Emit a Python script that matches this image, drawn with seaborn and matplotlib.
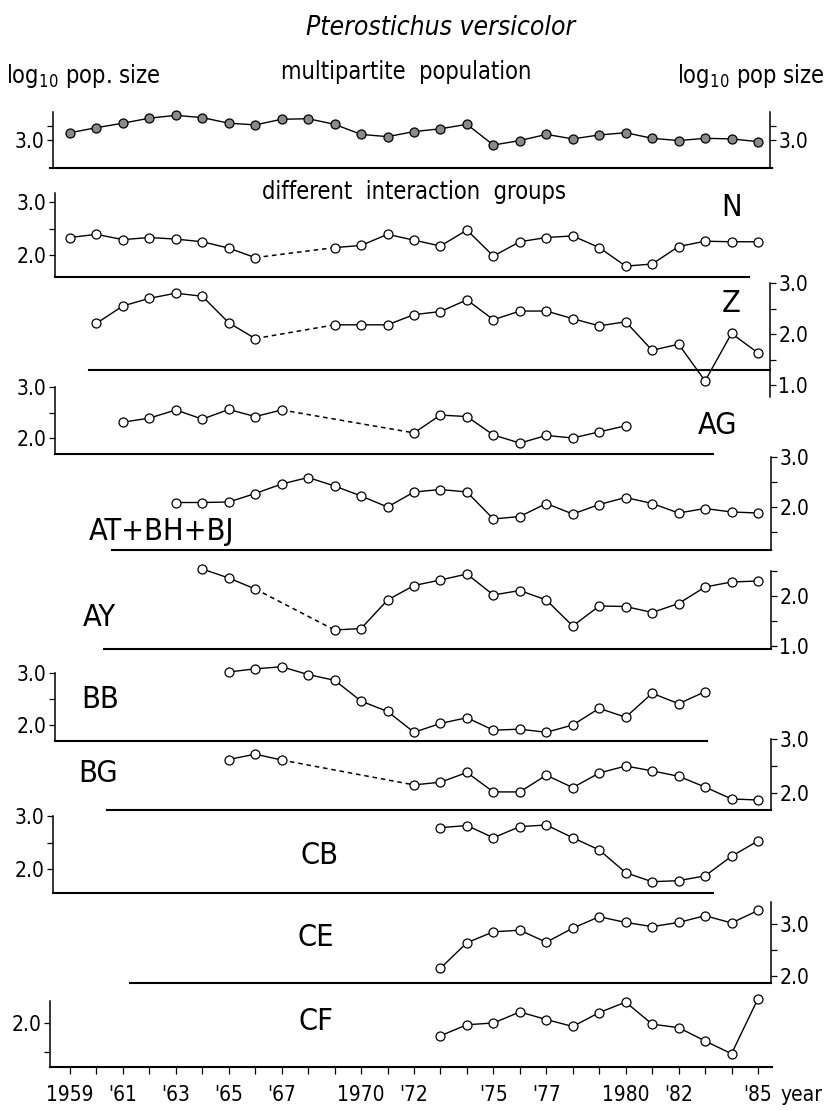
import matplotlib
matplotlib.use("Agg")
import matplotlib.pyplot as plt
from matplotlib import font_manager as fm
import numpy as np
import pandas as pd
import seaborn as sns

# ------------------------------------------------------------------ data
MULTI_YEARS = [1959, 1960, 1961, 1962, 1963, 1964, 1965, 1966, 1967, 1968, 1969, 1970, 1971,
               1972, 1973, 1974, 1975, 1976, 1977, 1978, 1979, 1980, 1981, 1982, 1983, 1984, 1985]
MULTI_VALUES = [3.13, 3.22, 3.30, 3.39, 3.44, 3.40, 3.30, 3.27, 3.37, 3.38, 3.28, 3.10, 3.06,
                3.15, 3.20, 3.28, 2.91, 2.99, 3.10, 3.02, 3.09, 3.13, 3.03, 2.99, 3.03, 3.02, 2.97]

N_YEARS = [1959, 1960, 1961, 1962, 1963, 1964, 1965, 1966,
           1969, 1970, 1971, 1972, 1973, 1974, 1975, 1976, 1977, 1978, 1979, 1980, 1981, 1982, 1983, 1984, 1985]
N_VALUES = [2.33, 2.39, 2.29, 2.33, 2.30, 2.25, 2.13, 1.95,
            2.14, 2.18, 2.39, 2.28, 2.17, 2.47, 1.98, 2.25, 2.33, 2.36, 2.14, 1.79, 1.83, 2.16, 2.26, 2.25, 2.25]

Z_YEARS = [1960, 1961, 1962, 1963, 1964, 1965, 1966,
           1969, 1970, 1971, 1972, 1973, 1974, 1975, 1976, 1977, 1978, 1979, 1980, 1981, 1982, 1983, 1984, 1985]
Z_VALUES = [2.21, 2.55, 2.70, 2.80, 2.74, 2.22, 1.91,
            2.18, 2.18, 2.18, 2.38, 2.44, 2.67, 2.28, 2.45, 2.45, 2.30, 2.16, 2.24, 1.68, 1.80, 1.08, 2.01, 1.63]

AG_YEARS = [1961, 1962, 1963, 1964, 1965, 1966, 1967,
            1972, 1973, 1974, 1975, 1976, 1977, 1978, 1979, 1980]
AG_VALUES = [2.31, 2.39, 2.55, 2.37, 2.56, 2.42, 2.55,
             2.10, 2.45, 2.42, 2.06, 1.90, 2.05, 2.00, 2.12, 2.24]

AT_YEARS = [1963, 1964, 1965, 1966, 1967, 1968, 1969, 1970, 1971, 1972, 1973, 1974,
            1975, 1976, 1977, 1978, 1979, 1980, 1981, 1982, 1983, 1984, 1985]
AT_VALUES = [2.09, 2.09, 2.10, 2.27, 2.46, 2.59, 2.42, 2.22, 2.00, 2.30, 2.35, 2.30,
             1.76, 1.81, 2.07, 1.86, 2.05, 2.19, 2.07, 1.88, 1.97, 1.90, 1.88]

AY_YEARS = [1964, 1965, 1966,
            1969, 1970, 1971, 1972, 1973, 1974, 1975, 1976, 1977, 1978, 1979, 1980, 1981, 1982, 1983, 1984, 1985]
AY_VALUES = [2.54, 2.36, 2.14,
             1.32, 1.35, 1.92, 2.21, 2.32, 2.44, 2.02, 2.11, 1.92, 1.40, 1.80, 1.79, 1.67, 1.85, 2.18, 2.28, 2.30]

BB_YEARS = [1965, 1966, 1967, 1968, 1969, 1970, 1971, 1972, 1973, 1974,
            1975, 1976, 1977, 1978, 1979, 1980, 1981, 1982, 1983]
BB_VALUES = [3.02, 3.08, 3.12, 2.97, 2.86, 2.46, 2.26, 1.86, 2.03, 2.14,
             1.90, 1.92, 1.86, 2.00, 2.32, 2.15, 2.61, 2.41, 2.64]

BG_YEARS = [1965, 1966, 1967,
            1972, 1973, 1974, 1975, 1976, 1977, 1978, 1979, 1980, 1981, 1982, 1983, 1984, 1985]
BG_VALUES = [2.62, 2.72, 2.61,
             2.15, 2.20, 2.38, 2.02, 2.02, 2.33, 2.10, 2.37, 2.50, 2.41, 2.31, 2.11, 1.89, 1.87]

CB_YEARS = [1973, 1974, 1975, 1976, 1977, 1978, 1979, 1980, 1981, 1982, 1983, 1984, 1985]
CB_VALUES = [2.78, 2.82, 2.59, 2.80, 2.83, 2.59, 2.36, 1.93, 1.76, 1.78, 1.87, 2.24, 2.53]

CE_YEARS = [1973, 1974, 1975, 1976, 1977, 1978, 1979, 1980, 1981, 1982, 1983, 1984, 1985]
CE_VALUES = [2.15, 2.64, 2.85, 2.88, 2.65, 2.92, 3.14, 3.03, 2.95, 3.03, 3.16, 3.02, 3.26]

CF_YEARS = [1973, 1974, 1975, 1976, 1977, 1978, 1979, 1980, 1981, 1982, 1983, 1984, 1985]
CF_VALUES = [1.78, 1.97, 2.00, 2.19, 2.06, 1.94, 2.18, 2.36, 1.98, 1.92, 1.69, 1.47, 2.42]

PANEL_NAMES = ["", "N", "Z", "AG", "AT+BH+BJ", "AY", "BB", "BG", "CB", "CE", "CF"]

XTICK_YEARS = [1959, 1960, 1961, 1962, 1963, 1964, 1965, 1966, 1967, 1968, 1969, 1970, 1971,
               1972, 1973, 1974, 1975, 1976, 1977, 1978, 1979, 1980, 1981, 1982, 1983, 1984, 1985]
XTICK_LABELS = {1959: "1959", 1961: "'61", 1963: "'63", 1965: "'65", 1967: "'67", 1970: "1970",
                1972: "'72", 1975: "'75", 1977: "'77", 1980: "1980", 1982: "'82", 1985: "'85"}

TITLE = "Pterostichus versicolor"

# ------------------------------------------------------------------ fonts
sns.set_theme(style="white")
avail = {(f.name, f.stretch) for f in fm.fontManager.ttflist}
names = {n for n, _ in avail}
FAM = "DejaVu Sans"
STRETCH = "normal"
if "Liberation Sans Narrow" in names:
    FAM = "Liberation Sans Narrow"
elif ("DejaVu Sans", "condensed") in avail or ("DejaVu Sans", "semi-condensed") in avail:
    STRETCH = "condensed"
plt.rcParams["font.family"] = [FAM, "DejaVu Sans"]
plt.rcParams["font.stretch"] = STRETCH
plt.rcParams["mathtext.fontset"] = "dejavusans"
for key in ["text.color", "axes.labelcolor", "xtick.color", "ytick.color", "axes.edgecolor"]:
    plt.rcParams[key] = "black"

# ------------------------------------------------------------------ layout (pixels)
W, H = 839, 1110
X1959_PX, X1985_PX = 70.0, 758.0


def year_of_px(px):
    return 1959 + (px - X1959_PX) * 26.0 / (X1985_PX - X1959_PX)


XLIM = (year_of_px(0), year_of_px(W))

# side, spine x, (value a, px a, value b, px b), spine px range, baseline px, baseline x-range,
# ticks, tick labels, name label position
LAYOUT = [
    dict(side="both", sx=(53, 770), m=(3.0, 140, 3.25, 126), sp=(112, 168), base=168, bx=(50, 772),
         ticks=[3.0, 3.25], tl=["3.0", ""], lab=None),
    dict(side="left", sx=55, m=(2.0, 255, 3.0, 202), sp=(193, 277), base=277, bx=(55, 749),
         ticks=[2.0, 2.5, 3.0], tl=["2.0", "", "3.0"], lab=(732, 207)),
    dict(side="right", sx=770, m=(1.0, 385, 3.0, 283), sp=(283, 397), base=370, bx=(89, 770),
         ticks=[1.0, 1.5, 2.0, 2.5, 3.0], tl=["1.0", "", "2.0", "", "3.0"], lab=(731, 303)),
    dict(side="left", sx=55, m=(2.0, 438, 3.0, 387), sp=(387, 454), base=454, bx=(55, 713),
         ticks=[2.0, 2.5, 3.0], tl=["2.0", "", "3.0"], lab=(718, 425)),
    dict(side="right", sx=771, m=(2.0, 507, 3.0, 457), sp=(457, 550), base=550, bx=(112, 771),
         ticks=[1.5, 2.0, 2.5, 3.0], tl=["", "2.0", "", "3.0"], lab=(162, 532)),
    dict(side="right", sx=771, m=(1.0, 646, 2.0, 596), sp=(571, 649), base=649, bx=(104, 771),
         ticks=[1.0, 1.5, 2.0, 2.5], tl=["1.0", "", "2.0", ""], lab=(99, 618)),
    dict(side="left", sx=55, m=(2.0, 725, 3.0, 673), sp=(673, 741), base=741, bx=(55, 707),
         ticks=[2.0, 2.5, 3.0], tl=["2.0", "", "3.0"], lab=(100, 700)),
    dict(side="right", sx=771, m=(2.0, 793, 3.0, 739), sp=(739, 810), base=810, bx=(107, 771),
         ticks=[2.0, 2.5, 3.0], tl=["2.0", "", "3.0"], lab=(98, 774)),
    dict(side="left", sx=53, m=(2.0, 869, 3.0, 816), sp=(816, 893), base=893, bx=(53, 713),
         ticks=[2.0, 2.5, 3.0], tl=["2.0", "", "3.0"], lab=(319, 855)),
    dict(side="right", sx=771, m=(2.0, 976, 3.0, 924), sp=(902, 983), base=983, bx=(130, 771),
         ticks=[2.0, 2.5, 3.0], tl=["2.0", "", "3.0"], lab=(316, 937)),
    dict(side="left", sx=50, m=(1.5, 1052, 2.0, 1023), sp=(1001, 1067), base=1067, bx=(50, 772),
         ticks=[1.5, 2.0], tl=["", "2.0"], lab=(316, 1021)),
]

SERIES = [
    (MULTI_YEARS, MULTI_VALUES), (N_YEARS, N_VALUES), (Z_YEARS, Z_VALUES), (AG_YEARS, AG_VALUES),
    (AT_YEARS, AT_VALUES), (AY_YEARS, AY_VALUES), (BB_YEARS, BB_VALUES), (BG_YEARS, BG_VALUES),
    (CB_YEARS, CB_VALUES), (CE_YEARS, CE_VALUES), (CF_YEARS, CF_VALUES),
]

TICK_FS = 15
LABEL_FS = 22
HEAD_FS = 17

fig = plt.figure(figsize=(W / 100, H / 100), dpi=100)
fig.patch.set_facecolor("white")


def draw_series(ax, years, values, filled):
    df = pd.DataFrame({"year": years, "value": values})
    run_id = (df["year"].diff().fillna(1) > 1).cumsum()
    runs = [g for _, g in df.groupby(run_id)]
    for g in runs:
        if len(g) > 1:
            sns.lineplot(data=g, x="year", y="value", ax=ax, color="black", linewidth=1.0,
                         estimator=None, sort=False, clip_on=False, zorder=2)
    for g0, g1 in zip(runs[:-1], runs[1:]):
        link = pd.concat([g0.tail(1), g1.head(1)])
        sns.lineplot(data=link, x="year", y="value", ax=ax, color="black", linewidth=1.1,
                     linestyle=(0, (3.0, 2.5)), estimator=None, sort=False, clip_on=False, zorder=2)
    sns.scatterplot(data=df, x="year", y="value", ax=ax, s=42,
                    color="#8a8a8a" if filled else "white", edgecolor="black", linewidth=0.9,
                    zorder=3, clip_on=False, legend=False)


for i, (lay, (yrs, vals)) in enumerate(zip(LAYOUT, SERIES)):
    va, pa, vb, pb = lay["m"]
    ppu = (pa - pb) / (vb - va)

    def y_at(px, va=va, pa=pa, ppu=ppu):
        return va + (pa - px) / ppu

    top_px = lay["sp"][0]
    bot_px = max(lay["sp"][1], lay["base"])
    ax = fig.add_axes([0, 1 - bot_px / H, 1, (bot_px - top_px) / H])
    ax.patch.set_visible(False)
    ax.set_xlim(*XLIM)
    ax.set_ylim(y_at(bot_px), y_at(top_px))

    draw_series(ax, yrs, vals, filled=(i == 0))

    for s in ax.spines.values():
        s.set_visible(False)
        s.set_linewidth(1.1)
        s.set_color("black")

    bsp = ax.spines["bottom"]
    bsp.set_visible(True)
    bsp.set_linewidth(1.5)
    bsp.set_position(("data", y_at(lay["base"])))
    bsp.set_bounds(year_of_px(lay["bx"][0]), year_of_px(lay["bx"][1]))

    sides = ["left", "right"] if lay["side"] == "both" else [lay["side"]]
    xs = lay["sx"] if lay["side"] == "both" else (lay["sx"],)
    for side, sx in zip(sides, xs):
        sp = ax.spines[side]
        sp.set_visible(True)
        sp.set_position(("data", year_of_px(sx)))
        sp.set_bounds(y_at(lay["sp"][1]), y_at(lay["sp"][0]))
    ax.set_yticks(lay["ticks"])
    ax.set_yticklabels(lay["tl"])
    if lay["side"] == "both":
        ax.tick_params(axis="y", left=True, right=True, labelleft=True, labelright=True)
    elif lay["side"] == "left":
        ax.tick_params(axis="y", left=True, right=False, labelleft=True, labelright=False)
    else:
        ax.tick_params(axis="y", left=False, right=True, labelleft=False, labelright=True)
    ax.tick_params(axis="y", direction="out", length=4, width=0.9, labelsize=TICK_FS, pad=2,
                   colors="black")
    ax.grid(False)
    ax.set_xlabel("")
    ax.set_ylabel("")

    if i == len(LAYOUT) - 1:
        ax.set_xticks(XTICK_YEARS)
        ax.set_xticklabels([XTICK_LABELS.get(y, "") for y in XTICK_YEARS])
        ax.tick_params(axis="x", bottom=True, direction="out", length=5, width=0.9,
                       labelsize=TICK_FS, pad=8, colors="black")
    else:
        ax.set_xticks([])
        ax.tick_params(axis="x", bottom=False, labelbottom=False)

    if lay["lab"] is not None:
        lx, ly = lay["lab"]
        fig.text(lx / W, 1 - ly / H, PANEL_NAMES[i], ha="center", va="center",
                 fontsize=LABEL_FS, color="black")

# ------------------------------------------------------------------ headings
fig.text(441 / W, 1 - 28 / H, TITLE, ha="center", va="center", fontsize=19, style="italic")
fig.text(6 / W, 1 - 76 / H, r"log$_{10}$ pop. size", ha="left", va="center", fontsize=HEAD_FS)
fig.text(406 / W, 1 - 72 / H, "multipartite  population", ha="center", va="center", fontsize=HEAD_FS)
fig.text(825 / W, 1 - 76 / H, r"log$_{10}$ pop size", ha="right", va="center", fontsize=HEAD_FS)
fig.text(414 / W, 1 - 192 / H, "different  interaction  groups", ha="center", va="center",
         fontsize=HEAD_FS)
fig.text(780 / W, 1 - 1095 / H, "year", ha="left", va="center", fontsize=TICK_FS)

fig.savefig("out.png", dpi=100, facecolor="white")
